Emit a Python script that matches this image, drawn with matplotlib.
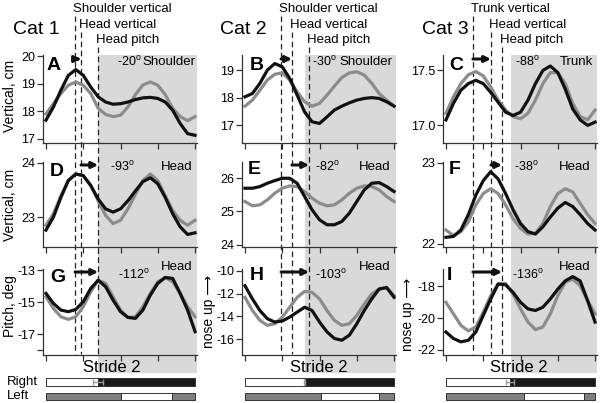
import matplotlib.pyplot as plt
from matplotlib import transforms
from matplotlib.patches import Rectangle
from matplotlib.lines import Line2D

plt.rcParams['font.family'] = ['Liberation Sans', 'DejaVu Sans']
plt.rcParams['axes.unicode_minus'] = False

# stride position (fraction of stride 2)
stride = [0.0, 0.05, 0.10, 0.15, 0.20, 0.25, 0.30, 0.35, 0.40, 0.45, 0.50,
          0.55, 0.60, 0.65, 0.70, 0.75, 0.80, 0.85, 0.90, 0.95, 1.0]

cats = ['Cat 1', 'Cat 2', 'Cat 3']

# row 1: shoulder / trunk vertical (black) vs head vertical (gray) etc.
a_dark = [17.67, 18.15, 18.76, 19.30, 19.51, 19.30, 18.88, 18.52, 18.33, 18.25, 18.27,
          18.33, 18.42, 18.48, 18.50, 18.46, 18.33, 18.03, 17.55, 17.18, 17.12]
a_light = [17.90, 18.27, 18.64, 18.94, 19.06, 18.94, 18.64, 18.10, 17.88, 17.80, 17.85,
           18.15, 18.60, 18.95, 19.06, 18.94, 18.60, 18.10, 17.80, 17.65, 17.80]
b_dark = [18.03, 18.15, 18.52, 19.00, 19.24, 19.12, 18.70, 18.09, 17.48, 17.12, 17.06,
          17.30, 17.55, 17.69, 17.81, 17.91, 17.97, 18.00, 17.97, 17.85, 17.69]
b_light = [17.69, 17.91, 18.27, 18.64, 18.85, 18.90, 18.64, 18.21, 17.85, 17.69, 17.79,
           18.09, 18.42, 18.73, 18.90, 18.94, 18.82, 18.52, 18.15, 17.91, 17.69]
c_dark = [17.05, 17.20, 17.32, 17.38, 17.41, 17.38, 17.30, 17.21, 17.12, 17.09, 17.12,
          17.23, 17.38, 17.50, 17.54, 17.48, 17.33, 17.15, 17.05, 17.00, 17.03]
c_light = [17.11, 17.26, 17.38, 17.46, 17.49, 17.45, 17.35, 17.23, 17.14, 17.08, 17.06,
           17.11, 17.23, 17.38, 17.48, 17.48, 17.38, 17.20, 17.08, 17.05, 17.14]
# row 2: head vertical
d_dark = [22.76, 23.00, 23.36, 23.67, 23.79, 23.76, 23.58, 23.33, 23.15, 23.09, 23.15,
          23.30, 23.48, 23.65, 23.72, 23.61, 23.36, 23.06, 22.82, 22.68, 22.71]
d_light = [22.85, 23.06, 23.39, 23.67, 23.79, 23.76, 23.58, 23.30, 23.03, 22.88, 22.94,
           23.15, 23.42, 23.67, 23.79, 23.67, 23.39, 23.12, 22.94, 22.85, 22.94]
e_dark = [25.70, 25.70, 25.75, 25.85, 25.93, 26.00, 26.00, 25.85, 25.45, 25.05, 24.75,
          24.60, 24.60, 24.70, 24.95, 25.30, 25.65, 25.85, 25.87, 25.75, 25.60]
e_light = [25.30, 25.17, 25.20, 25.35, 25.55, 25.70, 25.77, 25.75, 25.60, 25.40, 25.25,
           25.17, 25.20, 25.35, 25.55, 25.70, 25.77, 25.75, 25.65, 25.45, 25.30]
f_dark = [22.08, 22.09, 22.17, 22.36, 22.60, 22.78, 22.89, 22.80, 22.62, 22.42, 22.25,
          22.15, 22.12, 22.21, 22.33, 22.44, 22.51, 22.46, 22.36, 22.25, 22.17]
f_light = [22.17, 22.10, 22.15, 22.27, 22.48, 22.62, 22.68, 22.62, 22.48, 22.31, 22.19,
           22.12, 22.13, 22.25, 22.46, 22.62, 22.68, 22.64, 22.50, 22.36, 22.25]
# row 3: head pitch
g_dark = [-14.46, -15.08, -15.50, -15.60, -15.46, -14.98, -14.15, -13.63, -14.04, -14.88, -15.60,
          -15.96, -16.02, -15.50, -14.56, -13.83, -13.46, -13.52, -14.46, -15.50, -16.85]
g_light = [-14.67, -15.40, -15.92, -16.08, -15.92, -15.29, -14.35, -13.63, -13.83, -14.67, -15.50,
           -15.96, -15.92, -15.29, -14.46, -13.73, -13.46, -13.73, -14.46, -15.29, -15.92]
h_dark = [-11.30, -12.46, -13.48, -14.20, -14.49, -14.40, -14.06, -13.62, -13.19, -13.48, -14.49,
          -15.36, -15.94, -16.09, -15.65, -14.64, -13.48, -12.46, -11.59, -11.45, -12.32]
h_light = [-12.32, -13.48, -14.35, -14.78, -14.64, -14.06, -13.19, -12.32, -11.80, -11.88, -12.46,
           -13.48, -14.35, -14.78, -14.64, -13.91, -12.90, -12.03, -11.59, -11.50, -12.17]
i_dark = [-20.88, -21.29, -21.50, -21.40, -20.88, -19.83, -18.79, -17.85, -17.90, -18.38, -19.00,
          -19.42, -19.52, -19.31, -18.79, -18.17, -17.65, -17.38, -17.65, -18.90, -20.25]
i_light = [-19.00, -19.73, -20.46, -20.81, -20.56, -19.63, -18.58, -17.85, -17.81, -18.48, -19.42,
           -20.25, -20.73, -20.56, -19.73, -18.58, -17.75, -17.54, -17.96, -18.90, -19.73]

dark = [[a_dark, b_dark, c_dark], [d_dark, e_dark, f_dark], [g_dark, h_dark, i_dark]]
light = [[a_light, b_light, c_light], [d_light, e_light, f_light], [g_light, h_light, i_light]]

letters = [['A', 'B', 'C'], ['D', 'E', 'F'], ['G', 'H', 'I']]
phase = [['-20', '-30', '-88'], ['-93', '-82', '-38'], ['-112', '-103', '-136']]
segment = [['Shoulder', 'Shoulder', 'Trunk'], ['Head', 'Head', 'Head'], ['Head', 'Head', 'Head']]

ylims = [[(16.84, 20.04), (16.35, 19.55), (16.84, 17.64)],
         [(22.45, 24.01), (23.93, 26.49), (21.96, 23.01)],
         [(-18.31, -12.93), (-17.39, -9.83), (-22.33, -16.9)]]
yticks = [[[17, 18, 19, 20], [17, 18, 19], [17.0, 17.5]],
          [[23, 24], [24, 25, 26], [22, 23]],
          [[-13, -15, -17, -18], [-10, -12, -14, -16], [-18, -20, -22]]]
ytick_labels = [[['17', '18', '19', '20'], ['17', '18', '19'], ['17.0', '17.5']],
                [['23', '24'], ['24', '25', '26'], ['22', '23']],
                [['-13', '-15', '-17', ''], ['-10', '-12', '-14', '-16'], ['-18', '-20', '-22']]]

# event markers (stride fraction)
event_names = [['Shoulder vertical', 'Head vertical', 'Head pitch'],
               ['Shoulder vertical', 'Head vertical', 'Head pitch'],
               ['Trunk vertical', 'Head vertical', 'Head pitch']]
event_pos = [[0.195, 0.235, 0.35], [0.242, 0.315, 0.43], [0.181, 0.302, 0.376]]
shade_start = [0.35, 0.40, 0.436]

# footfall bars
right_switch = [0.35, 0.40, 0.43]
right_sd = [0.034, 0.005, 0.025]
left_on = [0.50, 0.51, 0.523]
left_off = [0.845, 0.90, 0.926]

W, H = 601, 403
fig = plt.figure(figsize=(W / 100, H / 100), dpi=100)

col_left = [43, 242, 443]
col_w = 154
rows = [(55, 143), (162, 247), (269, 355)]
xlim = (-0.02, 1.013)


def rect(l, t, r, b):
    return [l / W, 1 - b / H, (r - l) / W, (b - t) / H]


def fy(py):
    return 1 - py / H


def ftext(px, py, s, **kw):
    fig.text(px / W, fy(py), s, **kw)


def bt(ax):
    return transforms.blended_transform_factory(ax.transData, fig.transFigure)


axes = [[None] * 3 for _ in range(3)]
for r in range(3):
    for c in range(3):
        ax = fig.add_axes(rect(col_left[c], rows[r][0], col_left[c] + col_w, rows[r][1]))
        ax.set_facecolor('none')
        ax.plot(stride, light[r][c], color='#8c8c8c', lw=2.3, solid_joinstyle='round')
        ax.plot(stride, dark[r][c], color='#111111', lw=2.3, solid_joinstyle='round')
        ax.set_xlim(xlim)
        ax.set_ylim(ylims[r][c])
        ax.set_xticks([0, 0.25, 0.5, 0.75, 1.0])
        ax.set_xticklabels([])
        ax.set_yticks(yticks[r][c])
        ax.set_yticklabels(ytick_labels[r][c])
        for s in ['top', 'right']:
            ax.spines[s].set_visible(False)
        for s in ['left', 'bottom']:
            ax.spines[s].set_color('#333333')
            ax.spines[s].set_linewidth(0.9)
        ax.tick_params(direction='out', length=4, width=0.9, color='#333333',
                       labelsize=9, pad=1.5)
        axes[r][c] = ax

# shaded stance period and event lines
label_y = [9.5, 25, 40]
line_top = [16, 32, 47]
for c in range(3):
    top = axes[0][c]
    tr = bt(top)
    fig.add_artist(Rectangle((shade_start[c], fy(373)), xlim[1] - shade_start[c],
                             fy(55) - fy(373), transform=tr, facecolor='#d9d9d9',
                             edgecolor='none', zorder=-2))
    for k in range(3):
        xp = event_pos[c][k]
        fig.add_artist(Line2D([xp, xp], [fy(line_top[k]), fy(354)], transform=tr,
                              color='#222222', lw=0.9, ls=(0, (4.5, 2.8)), zorder=-1))
        fig.text(xp - 0.015, fy(label_y[k]), event_names[c][k], transform=tr,
                 ha='left', va='center', fontsize=9.5)
    ftext(col_left[c] + [-30, -22, -21][c], 30, cats[c], fontsize=14, ha='left', va='center')

# arrows showing the lag
arrow_y = [59, 165, 272]
arrow_pairs = [(0, 1), (1, 2), (0, 2)]
for r in range(3):
    for c in range(3):
        ax = axes[r][c]
        i0, i1 = arrow_pairs[r]
        ax.annotate('', xy=(event_pos[c][i1], fy(arrow_y[r])),
                    xytext=(event_pos[c][i0], fy(arrow_y[r])),
                    xycoords=bt(ax), textcoords=bt(ax), annotation_clip=False,
                    arrowprops=dict(arrowstyle='-|>', color='#111111', lw=2.2,
                                    mutation_scale=9, shrinkA=0, shrinkB=0))

# panel texts (pixel positions)
letter_xy = [[(47, 65), (250, 65), (449, 65)],
             [(50, 171), (248, 170), (449, 170)],
             [(50, 277), (250, 276), (447, 276)]]
phase_x = [[117, 312, 515], [110, 315, 514], [118, 315, 512]]
seg_right = [[195, 392, 593], [193, 390, 591], [192, 390, 591]]
phase_y = [62, 167, 275]
seg_y = [62, 167, 267]
for r in range(3):
    for c in range(3):
        lx, ly = letter_xy[r][c]
        ftext(lx, ly, letters[r][c], fontsize=14, fontweight='bold', ha='left', va='center')
        ftext(phase_x[r][c], phase_y[r], phase[r][c] + r'$^\mathregular{o}$',
              fontsize=9, ha='left', va='center')
        ftext(seg_right[r][c], seg_y[r], segment[r][c], fontsize=9.5, ha='right', va='center')

# axis labels
ftext(10, 96, 'Vertical, cm', rotation=90, fontsize=10, ha='center', va='center')
ftext(10, 205, 'Vertical, cm', rotation=90, fontsize=10, ha='center', va='center')
ftext(10, 306, 'Pitch, deg', rotation=90, fontsize=10, ha='center', va='center')
ftext(209, 311, 'nose up \u27f6', rotation=90, fontsize=10, ha='center', va='center')
ftext(408, 314, 'nose up \u27f6', rotation=90, fontsize=10, ha='center', va='center')
for c, cx in enumerate([112, 319, 519]):
    ftext(cx, 367, 'Stride 2', fontsize=12, ha='center', va='center')
ftext(7, 382, 'Right', fontsize=9.5, ha='left', va='center')
ftext(7, 396, 'Left', fontsize=9.5, ha='left', va='center')

# footfall bars
for c in range(3):
    axb = fig.add_axes(rect(col_left[c], 376, col_left[c] + col_w, 401))
    axb.set_facecolor('none')
    axb.set_xlim(xlim)
    axb.set_ylim(1.31, -0.414)
    axb.axis('off')
    sw = right_switch[c]
    axb.barh([0, 0], [sw, 1 - sw], left=[0, sw], height=0.55,
             color=['white', '#1a1a1a'], edgecolor='#333333', lw=0.7)
    axb.barh([1, 1, 1], [left_on[c], left_off[c] - left_on[c], 1 - left_off[c]],
             left=[0, left_on[c], left_off[c]], height=0.5,
             color=['#7f7f7f', 'white', '#7f7f7f'], edgecolor='#333333', lw=0.7)
    axb.errorbar([sw], [0], xerr=[right_sd[c]], color='#9a9a9a', lw=1, capsize=2,
                 capthick=1)

fig.savefig('out.png', dpi=100)
